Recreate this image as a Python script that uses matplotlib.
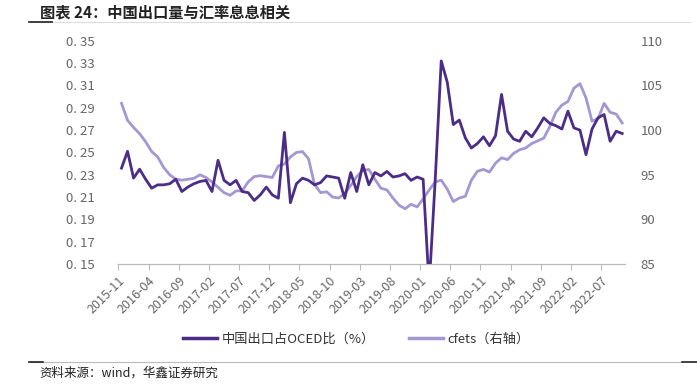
import matplotlib
matplotlib.use("Agg")
import matplotlib.pyplot as plt
from matplotlib.lines import Line2D

plt.rcParams['font.family'] = ['Noto Sans CJK SC', 'DejaVu Sans']

# monthly, 2015-11 .. 2022-10
months = [f"{2015 + (10 + i) // 12}-{(10 + i) % 12 + 1:02d}" for i in range(84)]

export_share = [
    0.236, 0.251, 0.227, 0.235, 0.226, 0.218, 0.221, 0.221, 0.222, 0.226,
    0.215, 0.219, 0.222, 0.224, 0.225, 0.215, 0.243, 0.225, 0.221, 0.225,
    0.215, 0.214, 0.207, 0.212, 0.219, 0.212, 0.209, 0.268, 0.205, 0.222,
    0.227, 0.225, 0.221, 0.223, 0.229, 0.228, 0.227, 0.209, 0.232, 0.215,
    0.239, 0.221, 0.232, 0.229, 0.233, 0.228, 0.229, 0.231, 0.225, 0.228,
    0.226, 0.130, 0.225, 0.332, 0.313, 0.275, 0.279, 0.263, 0.254, 0.258,
    0.264, 0.256, 0.265, 0.302, 0.269, 0.262, 0.260, 0.269, 0.264, 0.272,
    0.281, 0.276, 0.274, 0.271, 0.287, 0.272, 0.270, 0.248, 0.271, 0.281,
    0.284, 0.260, 0.269, 0.267,
]

cfets = [
    103.0, 101.1, 100.3, 99.6, 98.7, 97.6, 97.0, 95.8, 95.0, 94.5,
    94.4, 94.5, 94.6, 95.0, 94.7, 94.2, 93.6, 93.0, 92.7, 93.2,
    93.2, 94.2, 94.8, 94.9, 94.8, 94.7, 96.0, 96.2, 97.0, 97.5,
    97.6, 96.8, 93.9, 93.0, 93.1, 92.5, 92.4, 92.9, 93.8, 94.8,
    95.5, 95.6, 94.5, 93.5, 93.3, 92.4, 91.6, 91.2, 91.7, 91.4,
    92.3, 93.3, 94.2, 94.4, 93.4, 92.0, 92.4, 92.6, 94.4, 95.4,
    95.6, 95.3, 96.3, 96.9, 96.7, 97.4, 97.8, 98.0, 98.5, 98.8,
    99.1, 100.4, 102.0, 102.8, 103.2, 104.7, 105.2, 103.6, 101.0, 101.3,
    103.0, 102.0, 101.8, 100.8,
]

left_ticks = [0.15, 0.17, 0.19, 0.21, 0.23, 0.25, 0.27, 0.29, 0.31, 0.33, 0.35]
right_ticks = [85, 90, 95, 100, 105, 110]

dark = "#4b2c86"
light = "#a597d2"
grey = "#666666"

fig = plt.figure(figsize=(6.97, 3.85), dpi=100)
ax = fig.add_axes([0.170, 0.314, 0.727, 0.580])
ax2 = ax.twinx()

x = list(range(len(months)))
ax.plot(x, export_share, color=dark, lw=2.0, solid_joinstyle='round', zorder=3)
ax2.plot(x, cfets, color=light, lw=2.0, solid_joinstyle='round', zorder=2)
ax.set_zorder(ax2.get_zorder() + 1)
ax.patch.set_visible(False)

ax.set_xlim(-0.5, len(months) - 0.5)
ax.set_ylim(0.15, 0.35)
ax2.set_ylim(85, 110)
ax.set_yticks(left_ticks)
ax.set_yticklabels([f"{v:.2f}".replace(".", ". ") for v in left_ticks])
ax2.set_yticks(right_ticks)
ax2.set_yticklabels([str(v) for v in right_ticks])

tick_pos = [i - 0.5 for i in range(0, len(months), 5)]
ax.set_xticks(tick_pos)
ax.set_xticklabels([months[i] for i in range(0, len(months), 5)],
                   rotation=45, ha='right', rotation_mode='anchor')

for a in (ax, ax2):
    for s in ('top', 'left', 'right'):
        a.spines[s].set_visible(False)
    a.spines['bottom'].set_color('#bbbbbb')
ax.tick_params(axis='y', length=0, pad=17, labelsize=9.5, labelcolor=grey)
ax2.tick_params(axis='y', length=0, pad=11, labelsize=9.5, labelcolor=grey)
ax.tick_params(axis='x', length=4, color='#bbbbbb', labelsize=9, labelcolor=grey, pad=3)

handles = [Line2D([], [], color=dark, lw=2.5), Line2D([], [], color=light, lw=2.5)]
fig.legend(handles, ["中国出口占OCED比（%）", "cfets（右轴）"], loc='center',
           bbox_to_anchor=(0.511, 0.12), ncol=2, frameon=False, fontsize=9.5,
           handlelength=2.6, handletextpad=0.3, columnspacing=2.6, labelcolor='#333333')

fig.text(0.057, 0.968, "图表 24：中国出口量与汇率息息相关", fontsize=11,
         fontweight='bold', color='#222222', va='center')
fig.add_artist(Line2D([0.042, 0.99], [0.943, 0.943], color='#dddddd', lw=0.8))
fig.add_artist(Line2D([0.042, 0.075], [0.943, 0.943], color='#222222', lw=1.2))

fig.add_artist(Line2D([0.042, 0.978], [0.060, 0.060], color='#bbbbbb', lw=0.8))
fig.add_artist(Line2D([0.042, 0.062], [0.060, 0.060], color='#222222', lw=1.2))
fig.add_artist(Line2D([0.978, 1.0], [0.060, 0.060], color='#222222', lw=1.2))
fig.text(0.057, 0.030, "资料来源：wind，华鑫证券研究", fontsize=9, color='#222222', va='center')

fig.savefig("out.png", dpi=100)
